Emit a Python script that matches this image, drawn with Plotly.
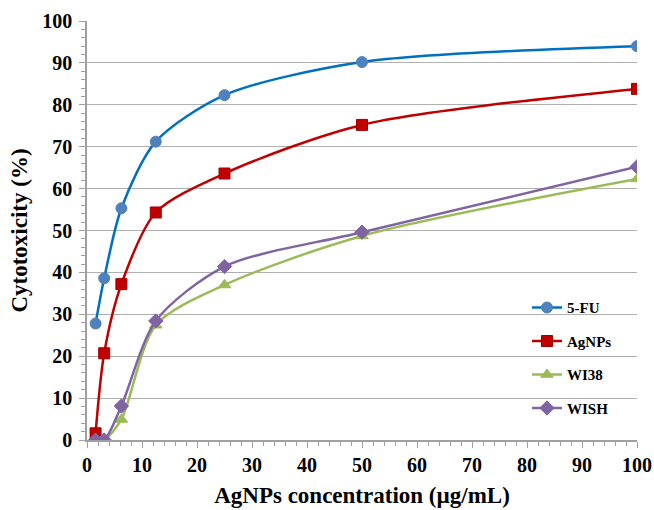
import plotly.graph_objects as go

conc = [1.56, 3.125, 6.25, 12.5, 25, 50, 100]
fu5 = [27.8, 38.6, 55.3, 71.2, 82.3, 90.2, 94.0]
agnps = [1.6, 20.7, 37.2, 54.3, 63.6, 75.2, 83.8]
wi38 = [0.0, 0.0, 4.9, 27.4, 37.0, 48.7, 62.3]
wish = [0.0, 0.0, 8.1, 28.4, 41.4, 49.6, 65.2]

series = [
    ("5-FU", fu5, "#0070C0", "#4F81BD", "circle", 11),
    ("AgNPs", agnps, "#C00000", "#C00000", "square", 11),
    ("WI38", wi38, "#9BBB59", "#9BBB59", "triangle-up", 11),
    ("WISH", wish, "#8064A2", "#8064A2", "diamond", 11),
]

fig = go.Figure()
for name, ys, lc, mc, sym, sz in series:
    fig.add_trace(go.Scatter(
        x=conc, y=ys, name=name, mode="lines+markers", legendgroup=name,
        line=dict(color=lc, width=2.5, shape="spline", smoothing=0.8),
        marker=dict(symbol=sym, size=sz, color=mc,
                    line=dict(color="#A00000" if name == "AgNPs" else mc, width=1)),
    ))

font_family = "Times New Roman, Liberation Serif, serif"
fig.update_layout(
    width=654, height=510,
    margin=dict(l=87, r=17, t=21, b=70),
    paper_bgcolor="white", plot_bgcolor="white",
    font=dict(family=font_family, color="black"),
    showlegend=True,
    legend=dict(x=0.8, y=0.355, xanchor="left", yanchor="top",
                font=dict(family=font_family, size=15, color="black", weight="bold"),
                bgcolor="rgba(0,0,0,0)", tracegroupgap=11,
                itemwidth=30),
    xaxis=dict(
        range=[0, 100], dtick=10, tick0=0, automargin=False,
        showgrid=False, zeroline=False,
        showline=True, linecolor="#A0A0A0", linewidth=1.5,
        ticks="outside", ticklen=6, tickcolor="#A0A0A0",
        minor=dict(dtick=2, ticks="outside", ticklen=4, tickcolor="#A0A0A0", showgrid=False),
        tickfont=dict(family=font_family, size=20, color="black", weight="bold"),
        title=dict(text="AgNPs concentration (µg/mL)", standoff=12,
                   font=dict(family=font_family, size=23, color="black", weight="bold")),
    ),
    yaxis=dict(
        range=[0, 100], dtick=10, tick0=0, automargin=False,
        showgrid=True, gridcolor="#B0B0B0", gridwidth=1,
        zeroline=False,
        showline=True, linecolor="#A0A0A0", linewidth=1.5,
        ticks="outside", ticklen=6, tickcolor="#A0A0A0",
        ticklabelstandoff=3,
        minor=dict(dtick=2, ticks="outside", ticklen=4, tickcolor="#A0A0A0", showgrid=False),
        tickfont=dict(family=font_family, size=20, color="black", weight="bold"),
        title=dict(text="Cytotoxicity (%)", standoff=8,
                   font=dict(family=font_family, size=23, color="black", weight="bold")),
    ),
)

fig.write_html("out.html")
